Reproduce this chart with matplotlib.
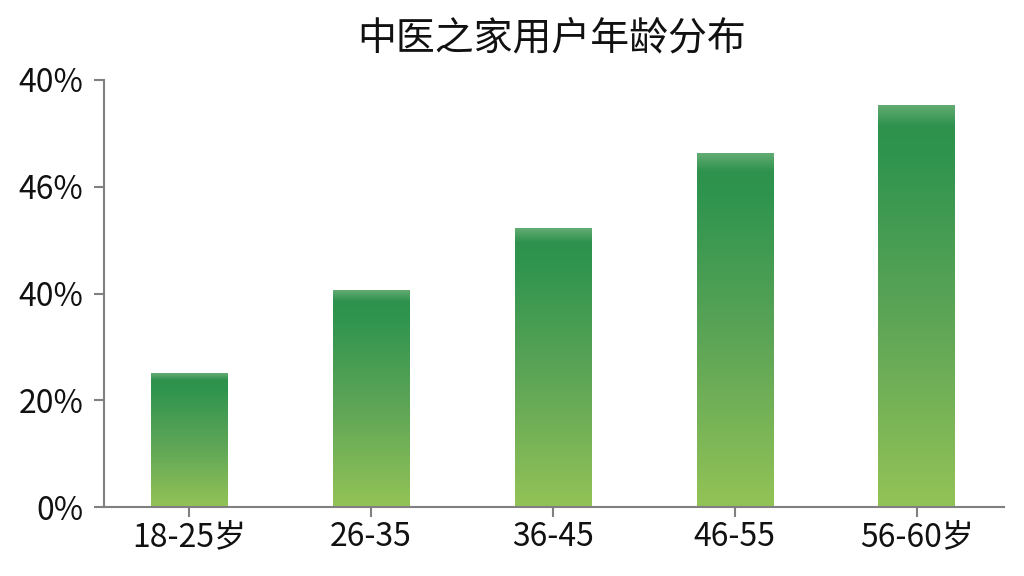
import numpy as np
import matplotlib
matplotlib.use("Agg")
import matplotlib.pyplot as plt
from matplotlib.colors import LinearSegmentedColormap

plt.rcParams['font.family'] = ['Noto Sans CJK SC', 'DejaVu Sans']

# data
categories = ['18-25岁', '26-35', '36-45', '46-55', '56-60岁']
values = [25.1, 40.6, 52.1, 66.2, 75.3]
y_ticks = [0, 20, 40, 60, 80]
y_tick_labels = ['0%', '20%', '40%', '46%', '40%']
title = '中医之家用户年龄分布'

# top -> bottom gradient of each bar
grad = LinearSegmentedColormap.from_list('bar', [
    (0.0, '#62ab72'),
    (0.05, '#2e924d'),
    (0.12, '#2f944e'),
    (0.55, '#5fa657'),
    (1.0, '#93c356'),
])

fig = plt.figure(figsize=(10.24, 5.76), dpi=100, facecolor='white')
ax = fig.add_axes([104/1024, 1-507/576, 900/1024, 427/576])

x = np.arange(len(categories))
width = 0.42
bars = ax.bar(x, values, width, color='none', edgecolor='none', zorder=2)
g = np.linspace(0, 1, 256).reshape(-1, 1)
for b in bars:
    x0 = b.get_x()
    h = b.get_height()
    ax.imshow(g, cmap=grad, aspect='auto', extent=[x0, x0 + b.get_width(), 0, h],
              origin='upper', zorder=2, interpolation='bicubic')

ax.set_xlim(-0.467, 4.48)
ax.set_ylim(0, 80)
ax.set_xticks(x)
ax.set_xticklabels(categories, fontsize=23, color='#111111')
ax.set_yticks(y_ticks)
ax.set_yticklabels(y_tick_labels, fontsize=23, color='#111111')

for s in ['top', 'right']:
    ax.spines[s].set_visible(False)
for s in ['left', 'bottom']:
    ax.spines[s].set_color('#808080')
    ax.spines[s].set_linewidth(1.5)
ax.tick_params(axis='both', colors='#808080', labelcolor='#111111', width=1.5, length=7)
ax.tick_params(axis='x', pad=3)
ax.tick_params(axis='y', pad=8)

fig.text(552/1024, 1-38/576, title, fontsize=28, ha='center', va='center', color='#111111')

fig.savefig('out.png', dpi=100, facecolor='white')
